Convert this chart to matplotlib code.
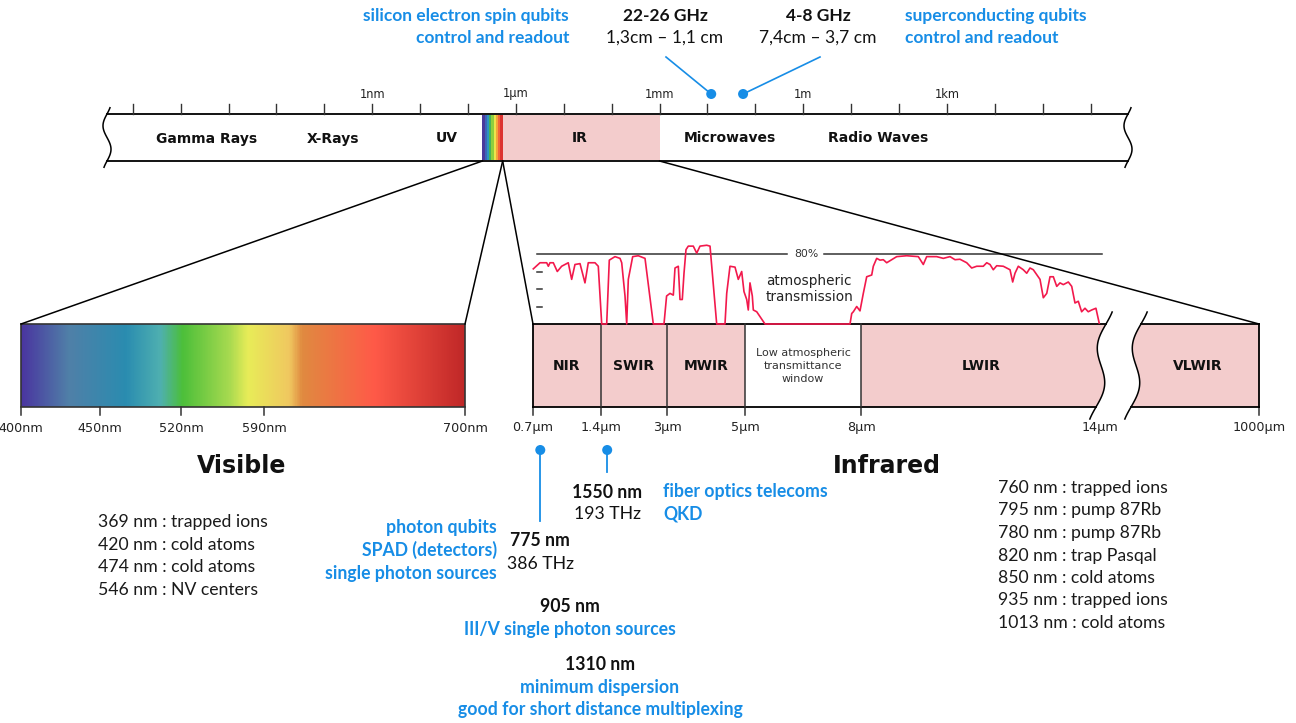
import numpy as np
import matplotlib
matplotlib.use('Agg')
import matplotlib.pyplot as plt
from matplotlib.colors import LinearSegmentedColormap
from matplotlib.patches import Polygon, Rectangle, Circle

# ====================== DATA ======================
# Top electromagnetic spectrum: decade ticks (log10 of wavelength in metres)
decade_exponents = list(range(-14, 7))
decade_labels = {-9: '1nm', -6: '1µm', -3: '1mm', 0: '1m', 3: '1km'}
band_names = ['Gamma Rays', 'X-Rays', 'UV', 'IR', 'Microwaves', 'Radio Waves']
band_label_log10_m = [-12.45, -9.82, -7.45, -4.67, -1.54, 1.56]
visible_band_m = (2.0e-7, 5.3e-7)          # as drawn on the schematic bar
ir_band_m = (5.3e-7, 1.0e-3)
rainbow_stripes = ['#4a3a9c', '#3d66b8', '#2e93c2', '#45b35a', '#8fcf3e',
                   '#ece44c', '#f2a43a', '#f2643a', '#dc3330']

# Microwave markers (wavelength in metres)
mw_markers_m = [0.012, 0.0555]
mw_titles = ['22-26 GHz', '4-8 GHz']
mw_subtitles = ['1,3cm – 1,1 cm', '7,4cm – 3,7 cm']
mw_left_note = ['silicon electron spin qubits', 'control and readout']
mw_right_note = ['superconducting qubits', 'control and readout']

# Visible zoom
visible_ticks_nm = [400, 450, 520, 590, 700]
visible_tick_labels = ['400nm', '450nm', '520nm', '590nm', '700nm']
visible_grad_nm = [400, 429.7, 471.6, 501.9, 521, 561, 576.5, 604, 611, 650.7, 700]
visible_grad_col = ['#4a36a0', '#5080a8', '#2a8cb0', '#4fb0b0', '#4cbf3a', '#a8da50',
                    '#e8ec58', '#f0c860', '#e08a40', '#ff5a48', '#c02828']
visible_uses = ['369 nm : trapped ions', '420 nm : cold atoms',
                '474 nm : cold atoms', '546 nm : NV centers']

# Infrared zoom
ir_ticks_um = [0.7, 1.4, 3, 5, 8, 14, 1000]
ir_tick_labels = ['0.7µm', '1.4µm', '3µm', '5µm', '8µm', '14µm', '1000µm']
ir_band_names = ['NIR', 'SWIR', 'MWIR', 'Low atmospheric\ntransmittance\nwindow', 'LWIR', 'VLWIR']
ir_band_lo = [0.7, 1.4, 3, 5, 8, 14]
ir_band_hi = [1.4, 3, 5, 8, 14, 1000]
ir_band_filled = [True, True, True, False, True, True]
ir_uses = ['760 nm : trapped ions', '795 nm : pump 87Rb', '780 nm : pump 87Rb',
           '820 nm : trap Pasqal', '850 nm : cold atoms', '935 nm : trapped ions',
           '1013 nm : cold atoms']

# Atmospheric transmission (wavelength µm, transmission %)
trans_um = [0.703, 0.772, 0.841, 0.858, 0.875, 0.909, 0.950, 0.995, 1.063, 1.098,
            1.132, 1.184, 1.235, 1.269, 1.338, 1.372, 1.417, 1.538, 1.601, 1.739,
            1.861, 1.902, 1.982, 2.023, 2.062, 2.168, 2.304, 2.467, 2.668, 2.927,
            2.990, 3.077, 3.162, 3.205, 3.290, 3.333, 3.392, 3.436, 3.487, 3.546,
            3.674, 3.762, 3.846, 4.018, 4.103, 4.274, 4.487, 4.531, 4.615, 4.744,
            4.828, 4.915, 4.974, 5.044, 5.085, 5.129, 5.189, 5.215, 5.303, 5.517,
            7.716, 7.760, 7.802, 7.889, 7.974, 8.058, 8.143, 8.269, 8.309, 8.394,
            8.477, 8.560, 8.645, 8.771, 8.896, 9.147, 9.439, 9.564, 9.649, 9.900,
            10.066, 10.234, 10.360, 10.485, 10.654, 10.779, 10.905, 11.070, 11.156, 11.239,
            11.321, 11.407, 11.572, 11.741, 11.808, 11.866, 11.949, 12.074, 12.160, 12.243,
            12.326, 12.494, 12.577, 12.663, 12.745, 12.828, 12.914, 12.996, 13.079, 13.205,
            13.290, 13.372, 13.455, 13.539, 13.623, 13.705, 13.790, 13.898, 13.980]
trans_pct = [63, 70, 70, 66, 70, 70, 60, 66, 70, 51,
             68, 69, 47, 70, 70, 66, 0, 0, 73, 77,
             75, 70, 32, 0, 51, 77, 78, 75, 0, 0,
             32, 35, 33, 64, 66, 28, 28, 58, 85, 89,
             89, 81, 89, 90, 89, 0, 0, 35, 66, 65,
             51, 60, 37, 28, 16, 47, 32, 16, 14, 0,
             0, 12, 14, 20, 15, 35, 54, 56, 66, 75,
             73, 73.5, 70, 73.5, 77, 78, 77, 68, 77, 77,
             75, 77, 73.5, 74, 70, 64, 66, 66, 70, 68,
             62, 66.6, 66, 62, 48, 58, 66, 62, 58, 64,
             62, 51, 30, 35, 54, 54, 43, 47, 45, 48,
             43, 24, 26, 14, 18, 14, 16, 18, 1]
trans_ref_pct = 80
trans_minor_pct = [20, 40, 60]

# Telecom / photonics markers (nm)
ir_markers_nm = [775, 1550]

# ====================== LAYOUT ======================
W, H = 1296, 723
BLUE = '#178de6'
PINK = '#f3cccc'
RED = '#f2194c'
MONT = 'DejaVu Sans'
CAL = 'Lato'
FS = 12.7

fig = plt.figure(figsize=(W / 100, H / 100), dpi=100)
ax = fig.add_axes([0, 0, 1, 1])
ax.set_xlim(0, W)
ax.set_ylim(H, 0)
ax.axis('off')

# ---- top spectrum bar ----
X1NM, DEC = 372.2, 47.89
TOP_Y0, TOP_Y1 = 114, 161


def top_x(lam_m):
    return X1NM + (np.log10(lam_m) + 9) * DEC


def wave(x0, y0, y1, amp, slant, ext, n=80):
    ys = np.linspace(y0 - ext, y1 + ext, n)
    h = y1 - y0
    xs = x0 - slant * (ys - (y0 + y1) / 2) - amp * np.sin(2 * np.pi * (ys - y0) / h)
    return xs, ys


def wave_x(x0, y0, y1, amp, slant, y):
    h = y1 - y0
    return x0 - slant * (y - (y0 + y1) / 2) - amp * np.sin(2 * np.pi * (y - y0) / h)


TL, TR = 107, 1128
for x0 in (TL, TR):
    xs, ys = wave(x0, TOP_Y0, TOP_Y1, 4, 0, 7)
    ax.plot(xs, ys, color='black', lw=1.1, solid_capstyle='butt')
for y in (TOP_Y0, TOP_Y1):
    ax.plot([wave_x(TL, TOP_Y0, TOP_Y1, 4, 0, y), wave_x(TR, TOP_Y0, TOP_Y1, 4, 0, y)],
            [y, y], color='black', lw=1.3)

# IR band in top bar
ax.add_patch(Rectangle((top_x(ir_band_m[0]), TOP_Y0 + 0.7),
                       top_x(ir_band_m[1]) - top_x(ir_band_m[0]), TOP_Y1 - TOP_Y0 - 1.4,
                       facecolor=PINK, edgecolor='none', zorder=1))
# rainbow in top bar
v0, v1 = top_x(visible_band_m[0]), top_x(visible_band_m[1])
edges = np.linspace(v0, v1, len(rainbow_stripes) + 1)
for i, c in enumerate(rainbow_stripes):
    ax.add_patch(Rectangle((edges[i], TOP_Y0 + 0.7), edges[i + 1] - edges[i] + 0.3,
                           TOP_Y1 - TOP_Y0 - 1.4, facecolor=c, edgecolor='none', zorder=1))

# decade ticks
for e in decade_exponents:
    x = top_x(10.0 ** e)
    ax.plot([x, x], [104, TOP_Y0], color='#333333', lw=1)
    if e in decade_labels:
        ax.text(x, 94, decade_labels[e], ha='center', va='center', fontsize=8.3,
                family=MONT, color='#222222')

for name, lg in zip(band_names, band_label_log10_m):
    ax.text(top_x(10.0 ** lg), 138.5, name, ha='center', va='center', fontsize=10,
            family=MONT, fontweight='bold', color='#111111')

# microwave markers
mw_text_x = [665, 818]
mw_line_end_x = [666, 820]
for lam, tx, lx, t1, t2 in zip(mw_markers_m, mw_text_x, mw_line_end_x, mw_titles, mw_subtitles):
    mx = top_x(lam)
    ax.plot([mx, lx], [94, 57], color=BLUE, lw=1.2, zorder=3)
    ax.add_patch(Circle((mx, 94), 5, facecolor=BLUE, edgecolor='none', zorder=4))
    ax.text(tx, 16, t1, ha='center', va='center', fontsize=12.5, family=CAL,
            fontweight='bold', color='#111111')
    ax.text(tx, 38, t2, ha='center', va='center', fontsize=12.5, family=CAL,
            color='#111111')
for i, t in enumerate(mw_left_note):
    ax.text(569, 16 + 22 * i, t, ha='right', va='center', fontsize=12.5, family=CAL,
            fontweight='bold', color=BLUE)
for i, t in enumerate(mw_right_note):
    ax.text(905, 16 + 22 * i, t, ha='left', va='center', fontsize=12.5, family=CAL,
            fontweight='bold', color=BLUE)

# ---- Visible zoom ----
VIS_PX = [21, 100, 181, 264, 465]
BAR_Y0, BAR_Y1 = 324, 407


def vis_x(nm):
    return np.interp(nm, visible_ticks_nm, VIS_PX)


gpos = [(vis_x(n) - VIS_PX[0]) / (VIS_PX[-1] - VIS_PX[0]) for n in visible_grad_nm]
cmap = LinearSegmentedColormap.from_list('vis', list(zip(gpos, visible_grad_col)))
ax.imshow(np.linspace(0, 1, 600).reshape(1, -1), cmap=cmap, aspect='auto',
          extent=(VIS_PX[0], VIS_PX[-1], BAR_Y1, BAR_Y0), zorder=1, interpolation='bilinear')
ax.add_patch(Rectangle((VIS_PX[0], BAR_Y0), VIS_PX[-1] - VIS_PX[0], BAR_Y1 - BAR_Y0,
                       facecolor='none', edgecolor='#333333', lw=1.2, zorder=2))
for n, lab in zip(visible_ticks_nm, visible_tick_labels):
    x = vis_x(n)
    ax.plot([x, x], [BAR_Y1, BAR_Y1 + 8], color='#333333', lw=1.1)
    ax.text(x, 428, lab, ha='center', va='center', fontsize=9.2, family=MONT, color='#222222')
ax.text(242, 466, 'Visible', ha='center', va='center', fontsize=17, family=MONT,
        fontweight='bold', color='#111111')
for i, t in enumerate(visible_uses):
    ax.text(98, 522 + 22.7 * i, t, ha='left', va='center', fontsize=FS, family=CAL,
            color='#1a1a1a')

# ---- Infrared zoom ----
IR_PX = [533, 601, 667, 745, 861, 1100, 1259]
BRK_L, BRK_R = 1101, 1136


def ir_x(um):
    return np.interp(um, ir_ticks_um, IR_PX)


for name, lo, hi, filled in zip(ir_band_names, ir_band_lo, ir_band_hi, ir_band_filled):
    xl, xr = ir_x(lo), ir_x(hi)
    if hi == 14:   # ends on the left break
        xs, ys = wave(BRK_L, BAR_Y0, BAR_Y1, 6, 0.12, 0)
        pts = [(xl, BAR_Y0)] + list(zip(xs, ys)) + [(xl, BAR_Y1)]
        cx = (xl + BRK_L) / 2
    elif lo == 14:  # starts on the right break
        xs, ys = wave(BRK_R, BAR_Y0, BAR_Y1, 6, 0.12, 0)
        pts = list(zip(xs, ys)) + [(xr, BAR_Y1), (xr, BAR_Y0)]
        cx = (BRK_R + xr) / 2
    else:
        pts = [(xl, BAR_Y0), (xr, BAR_Y0), (xr, BAR_Y1), (xl, BAR_Y1)]
        cx = (xl + xr) / 2
    ax.add_patch(Polygon(pts, closed=True, facecolor=PINK if filled else 'white',
                         edgecolor='none', zorder=1))
    if '\n' in name:
        ax.text(cx, 366, name, ha='center', va='center', fontsize=8.0, family=MONT,
                color='#333333', linespacing=1.35)
    else:
        ax.text(cx, 366, name, ha='center', va='center', fontsize=10, family=MONT,
                fontweight='bold', color='#111111')

# IR borders
for y in (BAR_Y0, BAR_Y1):
    ax.plot([IR_PX[0], wave_x(BRK_L, BAR_Y0, BAR_Y1, 6, 0.12, y)], [y, y], color='black', lw=1.3, zorder=3)
    ax.plot([wave_x(BRK_R, BAR_Y0, BAR_Y1, 6, 0.12, y), IR_PX[-1]], [y, y], color='black', lw=1.3, zorder=3)
for um in ir_ticks_um[1:5]:
    ax.plot([ir_x(um)] * 2, [BAR_Y0, BAR_Y1], color='#333333', lw=1.1, zorder=3)
for x in (IR_PX[0], IR_PX[-1]):
    ax.plot([x, x], [BAR_Y0, BAR_Y1], color='black', lw=1.3, zorder=3)
for x0 in (BRK_L, BRK_R):
    xs, ys = wave(x0, BAR_Y0, BAR_Y1, 6, 0.12, 12)
    ax.plot(xs, ys, color='black', lw=1.1, zorder=3)
for um, lab in zip(ir_ticks_um, ir_tick_labels):
    x = ir_x(um)
    if um != 14:
        ax.plot([x, x], [BAR_Y1, BAR_Y1 + 8], color='#333333', lw=1.1)
    ax.text(x, 428, lab, ha='center', va='center', fontsize=9.2, family=MONT, color='#222222')

# transmission
PCT = 0.875


def tr_y(p):
    return BAR_Y0 - np.asarray(p) * PCT


ax.plot(ir_x(np.array(trans_um)), tr_y(trans_pct), color=RED, lw=1.2, zorder=4)
yref = tr_y(trans_ref_pct)
ax.plot([537, 787], [yref, yref], color='#333333', lw=1.1, zorder=3)
ax.plot([824, 1102], [yref, yref], color='#333333', lw=1.1, zorder=3)
ax.text(806, yref, f'{trans_ref_pct}%', ha='center', va='center', fontsize=7.8,
        family=MONT, color='#333333')
for p in trans_minor_pct:
    ax.plot([537, 542], [tr_y(p)] * 2, color='#333333', lw=1.1)
ax.text(766, 289, 'atmospheric\ntransmission', ha='left', va='center', fontsize=9.8,
        family=MONT, color='#222222', linespacing=1.2)

# connectors
ax.plot([v0, VIS_PX[0]], [TOP_Y1, BAR_Y0], color='black', lw=1.1)
ax.plot([v1, VIS_PX[-1]], [TOP_Y1, BAR_Y0], color='black', lw=1.1)
ax.plot([v1, IR_PX[0]], [TOP_Y1, BAR_Y0], color='black', lw=1.1)
ax.plot([top_x(ir_band_m[1]), IR_PX[-1]], [TOP_Y1, BAR_Y0], color='black', lw=1.1, zorder=3)

ax.text(887, 466, 'Infrared', ha='center', va='center', fontsize=17, family=MONT,
        fontweight='bold', color='#111111')
for i, t in enumerate(ir_uses):
    ax.text(998, 488 + 22.5 * i, t, ha='left', va='center', fontsize=FS, family=CAL,
            color='#1a1a1a')

# IR markers
m775, m1550 = [ir_x(n / 1000) for n in ir_markers_nm]
ax.plot([m775, m775], [450, 521], color=BLUE, lw=1.3)
ax.plot([m1550, m1550], [450, 472], color=BLUE, lw=1.3)
for m in (m775, m1550):
    ax.add_patch(Circle((m, 450), 5, facecolor=BLUE, edgecolor='none', zorder=4))

ax.text(m1550, 492, '1550 nm', ha='center', va='center', fontsize=FS, family=CAL,
        fontweight='bold', color='#111111')
ax.text(m1550, 514, '193 THz', ha='center', va='center', fontsize=FS, family=CAL, color='#111111')
ax.text(663, 492, 'fiber optics telecoms', ha='left', va='center', fontsize=FS, family=CAL,
        fontweight='bold', color=BLUE)
ax.text(663, 514, 'QKD', ha='left', va='center', fontsize=FS, family=CAL,
        fontweight='bold', color=BLUE)
for i, t in enumerate(['photon qubits', 'SPAD (detectors)', 'single photon sources']):
    ax.text(497, 527 + 23 * i, t, ha='right', va='center', fontsize=FS, family=CAL,
            fontweight='bold', color=BLUE)
ax.text(m775, 541, '775 nm', ha='center', va='center', fontsize=FS, family=CAL,
        fontweight='bold', color='#111111')
ax.text(m775, 564, '386 THz', ha='center', va='center', fontsize=FS, family=CAL, color='#111111')
ax.text(570, 606, '905 nm', ha='center', va='center', fontsize=FS, family=CAL,
        fontweight='bold', color='#111111')
ax.text(570, 630, 'III/V single photon sources', ha='center', va='center', fontsize=FS,
        family=CAL, fontweight='bold', color=BLUE)
ax.text(600, 664, '1310 nm', ha='center', va='center', fontsize=FS, family=CAL,
        fontweight='bold', color='#111111')
ax.text(600, 687, 'minimum dispersion', ha='center', va='center', fontsize=FS, family=CAL,
        fontweight='bold', color=BLUE)
ax.text(600, 709, 'good for short distance multiplexing', ha='center', va='center',
        fontsize=FS, family=CAL, fontweight='bold', color=BLUE)

fig.savefig('out.png', dpi=100)
